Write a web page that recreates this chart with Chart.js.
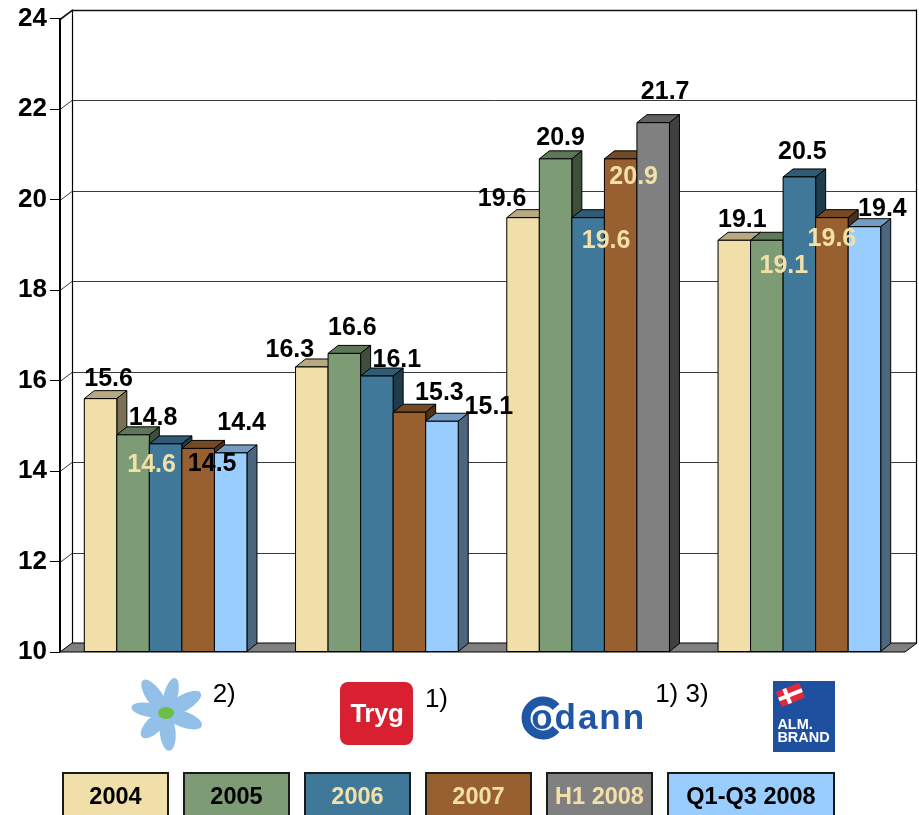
<!DOCTYPE html>
<html>
<head>
<meta charset="utf-8">
<script src="https://cdn.jsdelivr.net/npm/chart.js@4.4.1/dist/chart.umd.min.js"></script>
<style>
html,body{margin:0;padding:0;background:#fff;}
#wrap{position:relative;width:919px;height:815px;overflow:hidden;font-family:Arial,"Liberation Sans",sans-serif;}
#c{position:absolute;left:0;top:0;}
.abs{position:absolute;}
.fn{position:absolute;font-size:26px;color:#000;white-space:nowrap;}
#legend{position:absolute;left:62px;top:772px;display:flex;gap:14px;}
#legend div{box-sizing:border-box;height:48px;border:2px solid #1a1a1a;display:flex;align-items:center;justify-content:center;font-weight:bold;font-size:23.5px;}
</style>
</head>
<body>
<div id="wrap">
<canvas id="c" width="919" height="815"></canvas>
<div id="logos"></div>
<div id="legend"></div>
</div>
<script>
// ---- data ----
const categories = ['Topdanmark', 'Tryg', 'Codan', 'Alm. Brand'];
const footnotes = ['2)', '1)', '1) 3)', ''];
const seriesNames = ['2004', '2005', '2006', '2007', 'H1 2008', 'Q1-Q3 2008'];
const v2004 = [15.6, 16.3, 19.6, 19.1];
const v2005 = [14.8, 16.6, 20.9, 19.1];
const v2006 = [14.6, 16.1, 19.6, 20.5];
const v2007 = [14.5, 15.3, 20.9, 19.6];
const vH1_2008 = [null, null, 21.7, null];
const vQ1Q3_2008 = [14.4, 15.1, null, 19.4];
const yTicks = [10, 12, 14, 16, 18, 20, 22, 24];

// ---- styles ----
const seriesColors = ['#F1DFAA', '#7D9C75', '#3F7898', '#99602F', '#808080', '#99CCFF'];
const legendTextColors = ['#000', '#000', '#F2E0A8', '#F2E0A8', '#F2E0A8', '#000'];
const CREAM = '#F2E0A8';
// data label placement relative to bar top-centre [dx, dy, cream?]
const labelPlacement = [
  [[8,-22],[-22,-19],[-21,-21],[8,-22]],
  [[20,-19],[8,-27],[5,-23],[17,24,1]],
  [[-14,19,1],[20,-18],[18,21,1],[3,-27]],
  [[14,14],[30,-21],[13,16,1],[0,19,1]],
  [null,null,[12,-33],null],
  [[11,-32],[47,-16],null,[18,-20]]
];
const FONT = 'Arial, "Liberation Sans", sans-serif';
const DX = 10, DY = -8;     // bar depth
const WDX = 12, WDY = -9;   // wall depth

function shade(hex, f) {
  const n = parseInt(hex.slice(1), 16);
  const r = Math.round(((n >> 16) & 255) * f), g = Math.round(((n >> 8) & 255) * f), b = Math.round((n & 255) * f);
  return 'rgb(' + r + ',' + g + ',' + b + ')';
}

const allSeries = [v2004, v2005, v2006, v2007, vH1_2008, vQ1Q3_2008];

const threeD = {
  id: 'threeD',
  beforeDatasetsDraw(chart) {
    const ctx = chart.ctx, a = chart.chartArea, y = chart.scales.y;
    ctx.save();
    ctx.fillStyle = '#fff';
    ctx.fillRect(a.left + WDX, a.top + WDY, a.right - a.left, a.bottom - a.top);
    ctx.beginPath();
    ctx.moveTo(a.left, a.bottom); ctx.lineTo(a.right, a.bottom);
    ctx.lineTo(a.right + WDX, a.bottom + WDY); ctx.lineTo(a.left + WDX, a.bottom + WDY);
    ctx.closePath();
    ctx.fillStyle = '#808080'; ctx.fill();
    ctx.strokeStyle = '#000'; ctx.lineWidth = 1; ctx.stroke();
    yTicks.forEach(v => {
      if (v === yTicks[0]) return;
      const py = Math.round(y.getPixelForValue(v)) + 0.5;
      ctx.beginPath();
      ctx.moveTo(a.left, py); ctx.lineTo(a.left + WDX, py + WDY); ctx.lineTo(a.right + WDX, py + WDY);
      ctx.strokeStyle = v === yTicks[yTicks.length - 1] ? '#111' : '#3a3a3a';
      ctx.lineWidth = v === yTicks[yTicks.length - 1] ? 1.6 : 1;
      ctx.stroke();
    });
    ctx.strokeStyle = '#000'; ctx.lineWidth = 1.2;
    ctx.beginPath();
    ctx.moveTo(a.left + WDX + 0.5, a.top + WDY); ctx.lineTo(a.left + WDX + 0.5, a.bottom + WDY);
    ctx.moveTo(a.right + WDX - 0.5, a.top + WDY); ctx.lineTo(a.right + WDX - 0.5, a.bottom + WDY);
    ctx.stroke();
    ctx.beginPath(); ctx.lineWidth = 2;
    ctx.moveTo(a.left, a.top); ctx.lineTo(a.left, a.bottom);
    ctx.stroke();
    ctx.restore();
  },
  afterDatasetsDraw(chart) {
    const ctx = chart.ctx, a = chart.chartArea;
    ctx.save();
    ctx.lineWidth = 1; ctx.strokeStyle = '#000'; ctx.lineJoin = 'round';
    for (let j = 0; j < categories.length; j++) {
      const bars = [];
      allSeries.forEach((s, i) => {
        if (s[j] == null) return;
        const el = chart.getDatasetMeta(i).data[j];
        const p = el.getProps(['x', 'y', 'base', 'width'], true);
        bars.push({ i, p });
      });
      bars.sort((A, B) => A.p.x - B.p.x);
      bars.forEach(({ i, p }) => {
        const c = seriesColors[i];
        const L = p.x - p.width / 2, R = p.x + p.width / 2, T = p.y, B = Math.min(p.base, a.bottom);
        ctx.beginPath();
        ctx.moveTo(L, T); ctx.lineTo(R, T); ctx.lineTo(R + DX, T + DY); ctx.lineTo(L + DX, T + DY); ctx.closePath();
        ctx.fillStyle = shade(c, 0.76); ctx.fill(); ctx.stroke();
        ctx.beginPath();
        ctx.moveTo(R, T); ctx.lineTo(R + DX, T + DY); ctx.lineTo(R + DX, B + DY); ctx.lineTo(R, B); ctx.closePath();
        ctx.fillStyle = shade(c, 0.5); ctx.fill(); ctx.stroke();
        ctx.beginPath(); ctx.rect(L, T, R - L, B - T);
        ctx.fillStyle = c; ctx.fill(); ctx.stroke();
      });
    }
    ctx.font = 'bold 25px ' + FONT;
    ctx.textAlign = 'center'; ctx.textBaseline = 'alphabetic';
    allSeries.forEach((s, i) => {
      s.forEach((v, j) => {
        if (v == null) return;
        const el = chart.getDatasetMeta(i).data[j];
        const pl = labelPlacement[i][j] || [0, -20];
        ctx.fillStyle = pl[2] ? CREAM : '#000';
        ctx.fillText(v.toFixed(1), el.x + pl[0], el.y + pl[1] + 9);
      });
    });
    ctx.restore();
  }
};

const chart = new Chart(document.getElementById('c'), {
  type: 'bar',
  data: {
    labels: categories,
    datasets: allSeries.map((s, i) => ({
      label: seriesNames[i], data: s, backgroundColor: seriesColors[i],
      borderColor: '#000', borderWidth: 1, skipNull: true, base: yTicks[0]
    }))
  },
  options: {
    responsive: false, animation: false, devicePixelRatio: 1,
    layout: { padding: { left: 0, right: 14, top: 16, bottom: 163 } },
    plugins: { legend: { display: false }, tooltip: { enabled: false } },
    datasets: { bar: { categoryPercentage: 0.77, barPercentage: 1.0 } },
    scales: {
      x: { display: false },
      y: {
        min: 10, max: 24,
        afterBuildTicks(s) { s.ticks = yTicks.map(v => ({ value: v })); },
        afterFit(s) { s.width = 60; },
        ticks: { color: '#000', padding: 3, font: { family: FONT, size: 26, weight: 'bold' } },
        grid: { color: 'transparent', tickColor: '#000', tickLength: 10, drawTicks: true, lineWidth: 1 },
        border: { display: false }
      }
    }
  },
  plugins: [threeD]
});

// ---- logos under the categories ----
const logoShift = [0, 0, -3, 5];
const footShift = [47, 48, 67, 0];
const logoHTML = [
  function () {
    const petals = [[-125,40,8],[-75,36,7],[-30,40,8],[20,38,8],[85,38,8],[135,34,8],[190,35,7]];
    let s = '<svg width="84" height="84" viewBox="0 0 84 84">';
    petals.forEach(([ang, len, w]) => {
      s += '<ellipse cx="' + (42 + len / 2) + '" cy="40" rx="' + (len / 2) + '" ry="' + w + '" fill="#93C0E8" transform="rotate(' + ang + ' 42 40)"/>';
    });
    s += '<ellipse cx="42" cy="40" rx="8" ry="6" fill="#6DBE45"/></svg>';
    return { html: s, w: 84, top: 673 };
  },
  function () {
    return { html: '<div style="width:73px;height:63px;border-radius:8px;background:#D92031;color:#fff;font-weight:bold;font-size:26px;display:flex;align-items:center;justify-content:center;letter-spacing:-0.5px;">' + categories[1] + '</div>', w: 73, top: 682 };
  },
  function () {
    return { html: '<div style="position:relative;width:128px;height:50px;overflow:hidden;">' +
      '<svg class="abs" style="left:0;top:4px" width="44" height="44"><path d="M35 11 A17 17 0 1 0 35 33" fill="none" stroke="#1F57A6" stroke-width="9"/></svg>' +
      '<div class="abs" style="left:10px;top:0px;font-weight:bold;font-size:35px;letter-spacing:2px;color:#1F57A6;line-height:50px;">odann</div></div>', w: 128, top: 692 };
  },
  function () {
    return { html: '<div style="position:relative;width:62px;height:71px;background:#1F4F9F;color:#fff;font-weight:bold;font-size:14.5px;line-height:12px;">' +
      '<svg class="abs" style="left:2px;top:1px" width="30" height="26"><g transform="rotate(-22 15 13)"><rect x="3" y="5" width="25" height="16" fill="#E2293B"/><rect x="10" y="5" width="4" height="16" fill="#fff"/><rect x="3" y="11" width="25" height="4" fill="#fff"/></g></svg>' +
      '<div class="abs" style="left:4px;top:37px;">ALM.</div><div class="abs" style="left:4px;top:50px;">BRAND</div></div>', w: 62, top: 681 };
  }
];
const logos = document.getElementById('logos');
categories.forEach((name, j) => {
  const cx = chart.scales.x.getPixelForValue(j);
  const L = logoHTML[j]();
  const d = document.createElement('div');
  d.className = 'abs'; d.title = name;
  d.style.left = (cx - L.w / 2 + logoShift[j]) + 'px';
  d.style.top = L.top + 'px';
  d.innerHTML = L.html;
  logos.appendChild(d);
  if (footnotes[j]) {
    const f = document.createElement('div');
    f.className = 'fn'; f.textContent = footnotes[j];
    f.style.left = (cx + footShift[j]) + 'px';
    f.style.top = (j === 1 ? 683 : 678) + 'px';
    logos.appendChild(f);
  }
});

// ---- legend ----
const legend = document.getElementById('legend');
seriesNames.forEach((n, i) => {
  const d = document.createElement('div');
  d.textContent = n;
  d.style.background = seriesColors[i];
  d.style.color = legendTextColors[i];
  d.style.width = (i === seriesNames.length - 1 ? 168 : 107) + 'px';
  legend.appendChild(d);
});
</script>
</body>
</html>
